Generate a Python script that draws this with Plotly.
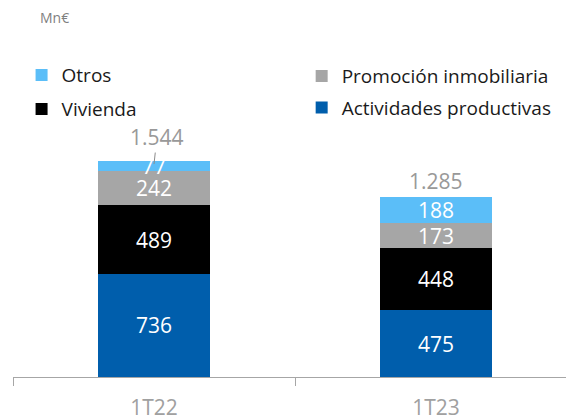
import plotly.graph_objects as go

categories = ["1T22", "1T23"]
actividades = [736, 475]
vivienda = [489, 448]
promocion = [242, 173]
otros = [77, 188]
totals = [1544, 1285]
total_labels = ["1.544", "1.285"]

FONT = "Open Sans"

series = [
    ("Actividades productivas", actividades, "#005EAC", "legend4"),
    ("Vivienda", vivienda, "#000000", "legend3"),
    ("Promoción inmobiliaria", promocion, "#A6A6A6", "legend2"),
    ("Otros", otros, "#5BBEF8", "legend"),
]

fig = go.Figure()
for name, vals, col, lg in series:
    fig.add_trace(go.Bar(
        x=categories, y=vals, name=name, marker=dict(color=col, line=dict(width=0)),
        width=0.4, text=[str(v) for v in vals], textposition="inside",
        insidetextanchor="middle", constraintext="none", textangle=0,
        textfont=dict(color="white", size=21, family=FONT),
        legend=lg, hoverinfo="skip",
    ))

# totals
fig.add_annotation(x=categories[0], y=totals[0] - 24, text=total_labels[0],
                   showarrow=True, arrowhead=0, arrowwidth=1, arrowcolor="#8C8C8C",
                   ax=3, ay=-27, standoff=0,
                   font=dict(size=21, color="#999999", family=FONT))
fig.add_annotation(x=categories[1], y=totals[1], text=total_labels[1],
                   showarrow=False, yanchor="bottom", yshift=0,
                   font=dict(size=21, color="#999999", family=FONT))

fig.add_annotation(xref="paper", yref="paper", x=0.045, y=1.068, text="Mn€",
                   showarrow=False, xanchor="left", yanchor="middle",
                   font=dict(size=14, color="#7F7F7F", family=FONT))

def leg(x, y):
    return dict(orientation="v", xanchor="left", yanchor="middle", x=x, y=y,
                font=dict(size=19, color="#1A1A1A", family=FONT),
                bgcolor="rgba(0,0,0,0)", borderwidth=0)

fig.update_layout(
    width=566, height=420,
    margin=dict(l=13, r=0, t=40, b=43),
    paper_bgcolor="white", plot_bgcolor="white",
    barmode="stack",
    showlegend=True,
    legend=leg(0.0155, 0.896),
    legend2=leg(0.522, 0.893),
    legend3=leg(0.0155, 0.795),
    legend4=leg(0.522, 0.799),
    font=dict(family=FONT),
    xaxis=dict(type="category", range=[-0.5, 1.461], tickson="boundaries",
               ticks="outside", ticklen=8, tickcolor="#A6A6A6", tickwidth=1,
               showline=True, linecolor="#A6A6A6", linewidth=1, showgrid=False,
               tickfont=dict(size=21, color="#A0A0A0", family=FONT),
               ticklabelstandoff=12, fixedrange=True, automargin=False),
    yaxis=dict(visible=False, range=[0, 2405.6], showgrid=False, zeroline=False,
               fixedrange=True),
)

fig.write_html("out.html", config={"displayModeBar": False},
               post_script="document.body.style.margin='0';")
